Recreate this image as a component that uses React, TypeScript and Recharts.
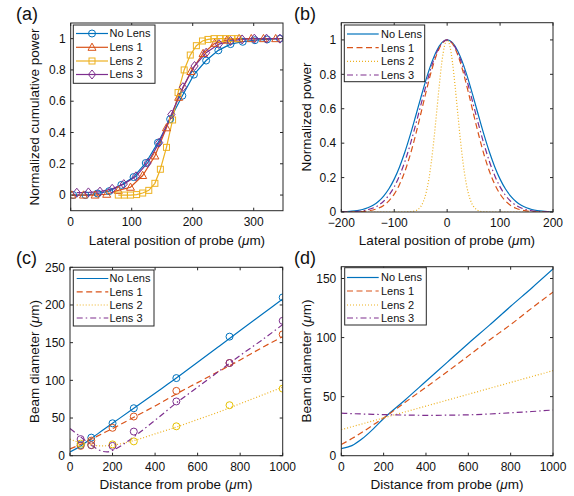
import React from "react";
import { LineChart, Line, XAxis, YAxis } from "recharts";

const BLUE = "#0072BD";
const ORANGE = "#D95319";
const YELLOW = "#EDB120";
const PURPLE = "#7E2F8E";
const AXIS = "#262626";
const TEXT = "#111";
const FONT = "'Liberation Sans', Arial, Helvetica, sans-serif";

const DASH = "6 3.5";
const DOT = "1 2";
const DASHDOT = "6 3 1.5 3";

const names = ["No Lens", "Lens 1", "Lens 2", "Lens 3"];

// (a) normalized cumulative power vs lateral position
const aNoLensX = [4, 24, 44, 63, 83, 103, 123, 143, 163, 183, 202, 222, 242, 262, 282, 302, 322, 343];
const aNoLensY = [0, 0, 0.01, 0.025, 0.065, 0.115, 0.205, 0.335, 0.485, 0.635, 0.77, 0.86, 0.925, 0.965, 0.98, 0.99, 0.995, 1.0];
const aLens1X = [2, 21, 40, 59, 78, 98, 118, 138, 157, 177, 197, 217, 236, 256, 276, 296, 316, 336];
const aLens1Y = [0, 0, 0, 0.005, 0.03, 0.05, 0.125, 0.25, 0.43, 0.625, 0.79, 0.905, 0.97, 0.99, 1.0, 1.0, 1.0, 1.0];
const aLens2X = [78, 88, 98, 108, 118, 128, 138, 147, 157, 167, 176, 186, 196, 206, 216, 225, 235, 245, 254, 264, 274];
const aLens2Y = [0, 0, 0, 0.003, 0.013, 0.03, 0.075, 0.165, 0.305, 0.48, 0.655, 0.8, 0.895, 0.955, 0.985, 0.995, 1.0, 1.0, 1.0, 1.0, 1.0];
const aLens3X = [10, 29, 48, 68, 87, 107, 126, 145, 165, 184, 203, 222, 243, 262, 281, 301, 321, 343];
const aLens3Y = [0.015, 0.017, 0.022, 0.04, 0.07, 0.12, 0.205, 0.335, 0.515, 0.69, 0.825, 0.91, 0.965, 0.985, 0.995, 1.0, 1.0, 1.0];

// (b) normalized power profiles
const bX = [
  -200, -190, -180, -170, -160, -150, -140, -130, -120, -110, -100, -90, -80, -70, -60, -50, -40, -30, -20, -10,
  0, 10, 20, 30, 40, 50, 60, 70, 80, 90, 100, 110, 120, 130, 140, 150, 160, 170, 180, 190, 200,
];
const bNoLens = [
  0.0013, 0.0026, 0.0047, 0.0084, 0.0145, 0.0243, 0.0392, 0.0612, 0.0926, 0.135, 0.191, 0.262, 0.347, 0.445, 0.552, 0.662, 0.768, 0.862, 0.936, 0.984,
  1, 0.984, 0.936, 0.862, 0.768, 0.662, 0.552, 0.445, 0.347, 0.262, 0.191, 0.135, 0.0926, 0.0612, 0.0392, 0.0243, 0.0145, 0.0084, 0.0047, 0.0026, 0.0013,
];
const bLens1 = [
  0.0001, 0.0003, 0.0007, 0.0014, 0.003, 0.0061, 0.0118, 0.0218, 0.0384, 0.0646, 0.104, 0.16, 0.235, 0.33, 0.443, 0.568, 0.696, 0.816, 0.913, 0.978,
  1, 0.978, 0.913, 0.816, 0.696, 0.568, 0.443, 0.33, 0.235, 0.16, 0.104, 0.0646, 0.0384, 0.0218, 0.0118, 0.0061, 0.003, 0.0014, 0.0007, 0.0003, 0.0001,
];
const bLens3 = [
  0.0005, 0.001, 0.002, 0.0039, 0.0073, 0.0132, 0.0231, 0.0388, 0.0628, 0.0977, 0.146, 0.211, 0.292, 0.39, 0.501, 0.618, 0.735, 0.841, 0.926, 0.981,
  1, 0.981, 0.926, 0.841, 0.735, 0.618, 0.501, 0.39, 0.292, 0.211, 0.146, 0.0977, 0.0628, 0.0388, 0.0231, 0.0132, 0.0073, 0.0039, 0.002, 0.001, 0.0005,
];
const bLens2X = [
  -200, -80, -75, -70, -65, -60, -55, -50, -45, -40, -35, -30, -25, -20, -15, -10, -5,
  0, 5, 10, 15, 20, 25, 30, 35, 40, 45, 50, 55, 60, 65, 70, 75, 80, 200,
];
const bLens2 = [
  0, 0.0001, 0.0004, 0.0011, 0.0029, 0.0068, 0.0151, 0.0313, 0.0605, 0.109, 0.183, 0.288, 0.421, 0.575, 0.732, 0.871, 0.966,
  1, 0.966, 0.871, 0.732, 0.575, 0.421, 0.288, 0.183, 0.109, 0.0605, 0.0313, 0.0151, 0.0068, 0.0029, 0.0011, 0.0004, 0.0001, 0,
];

// (c) measured beam diameter (markers) and fitted curves
const cMarkX = [50, 100, 200, 300, 500, 750, 1000];
const cNoLensM = [14, 24, 43, 63, 103, 158, 210];
const cLens1M = [13, 20, 37, 52, 86, 123, 161];
const cLens2M = [16, 14, 15, 19, 39, 67, 89];
const cLens3M = [22, 14, 13, 32, 72, 123, 179];
const cFitX = [0, 50, 100, 150, 200, 300, 400, 500, 600, 700, 800, 900, 1000];
const cNoLensFit = [5, 13, 23, 33, 43, 63, 83, 103, 124, 145, 166, 187, 208];
const cLens1Fit = [9, 15, 22, 29, 36, 51, 66, 82, 97, 112, 127, 143, 158];
const cLens2Fit = [22, 17, 14, 13, 14, 20, 29, 38, 48, 58, 69, 80, 91];
const cLens3FitX = [0, 50, 100, 150, 175, 200, 250, 300, 400, 500, 600, 700, 800, 900, 1000];
const cLens3Fit = [36, 25, 14, 6, 5, 7, 15, 25, 47, 70, 91, 112, 133, 153, 174];

// (d) simulated beam diameter
const dX = [0, 50, 100, 150, 200, 300, 400, 500, 600, 700, 800, 900, 1000];
const dNoLens = [6, 8.5, 14.5, 22.5, 31.5, 47, 63, 79, 95, 110.5, 126.5, 142, 158];
const dLens1 = [9.5, 14.5, 20, 26, 32, 45, 58, 71, 84.5, 98, 111, 125, 138.5];
const dLens2 = [22, 24.5, 27, 29.5, 32, 37, 42, 47, 52, 57, 62, 67, 72];
const dLens3 = [36, 35.6, 35.3, 35, 34.8, 34.4, 34.2, 34.3, 34.6, 35.3, 36.3, 37.4, 38.7];

const rows = (xs: number[], ys: number[]) => xs.map((x, i) => ({ x, y: ys[i] }));

type Shape = "circle" | "triangle" | "square" | "diamond";

function Marker({ shape, cx, cy, color }: { shape: Shape; cx: number; cy: number; color: string }) {
  const common = { fill: "none", stroke: color, strokeWidth: 1 };
  if (shape === "circle") return <circle cx={cx} cy={cy} r={3.5} {...common} />;
  if (shape === "triangle")
    return <polygon points={`${cx},${cy - 4.2} ${cx + 4},${cy + 3} ${cx - 4},${cy + 3}`} {...common} />;
  if (shape === "square") return <rect x={cx - 3} y={cy - 3} width={6} height={6} {...common} />;
  return <polygon points={`${cx},${cy - 4.5} ${cx + 3.6},${cy} ${cx},${cy + 4.5} ${cx - 3.6},${cy}`} {...common} />;
}

const dotFor = (shape: Shape, color: string) => (p: any) =>
  <Marker key={`m-${p.index}`} shape={shape} cx={p.cx} cy={p.cy} color={color} />;

const minus = (v: number) => String(v).replace("-", "\u2212");

const TICK_FS = 12;

type PanelProps = {
  left: number;
  top: number;
  width: number;
  height: number;
  mTop: number;
  mRight: number;
  yW: number;
  xH: number;
  xDomain: [number, number];
  yDomain: [number, number];
  xTicks: number[];
  yTicks: number[];
  children: React.ReactNode;
};

function Panel(props: PanelProps) {
  const { left, top, width, height, mTop, mRight, yW, xH, xDomain, yDomain, xTicks, yTicks, children } = props;
  const rightX = width - mRight;
  const xM = 6.5;
  const yM = 5;
  const xTick = (p: any) => {
    const axisY = p.y - xM;
    return (
      <g>
        <line x1={p.x} x2={p.x} y1={axisY} y2={axisY - 3} stroke={AXIS} />
        <line x1={p.x} x2={p.x} y1={mTop} y2={mTop + 3} stroke={AXIS} />
        <text x={p.x} y={p.y} dy="0.71em" textAnchor="middle" fontSize={TICK_FS} fontFamily={FONT} fill={TEXT}>
          {minus(p.payload.value)}
        </text>
      </g>
    );
  };
  const yTick = (p: any) => {
    const axisX = p.x + yM;
    return (
      <g>
        <line x1={axisX} x2={axisX + 3} y1={p.y} y2={p.y} stroke={AXIS} />
        <line x1={rightX - 3} x2={rightX} y1={p.y} y2={p.y} stroke={AXIS} />
        <text x={p.x} y={p.y} dy="0.35em" textAnchor="end" fontSize={TICK_FS} fontFamily={FONT} fill={TEXT}>
          {minus(p.payload.value)}
        </text>
      </g>
    );
  };
  return (
    <div style={{ position: "absolute", left, top }}>
      <LineChart width={width} height={height} margin={{ top: mTop, right: mRight, left: 0, bottom: 0 }}>
        <XAxis
          dataKey="x"
          type="number"
          domain={xDomain}
          ticks={xTicks}
          interval={0}
          height={xH}
          tickSize={0}
          tickMargin={xM}
          axisLine={false}
          tick={xTick}
          allowDataOverflow
        />
        <YAxis
          type="number"
          domain={yDomain}
          ticks={yTicks}
          interval={0}
          width={yW}
          tickSize={0}
          tickMargin={yM}
          axisLine={false}
          tick={yTick}
          allowDataOverflow
        />
        {children}
      </LineChart>
    </div>
  );
}

type LegendItem = { name: string; color: string; dash?: string; marker?: Shape };

function LegendBox({ x, y, w, h, rowY, lx1, lx2, tx, items }: {
  x: number; y: number; w: number; h: number; rowY: number[]; lx1: number; lx2: number; tx: number; items: LegendItem[];
}) {
  return (
    <g>
      <rect x={x} y={y} width={w} height={h} fill="#fff" stroke={AXIS} strokeWidth={1} />
      {items.map((it, i) => (
        <g key={it.name}>
          <line x1={lx1} x2={lx2} y1={rowY[i]} y2={rowY[i]} stroke={it.color} strokeWidth={1.2} strokeDasharray={it.dash} />
          {it.marker && <Marker shape={it.marker} cx={(lx1 + lx2) / 2} cy={rowY[i]} color={it.color} />}
          <text x={tx} y={rowY[i]} dy="0.36em" fontSize={11} fontFamily={FONT} fill={TEXT}>
            {it.name}
          </text>
        </g>
      ))}
    </g>
  );
}

const Mu = () => <tspan fontStyle="italic">{"\u03bc"}</tspan>;

function Overlay() {
  const frames = [
    [70.7, 23, 283, 210.7],
    [341.3, 22.7, 553, 212],
    [70, 267.3, 282.7, 455.7],
    [341.3, 266.7, 553, 455.7],
  ];
  const lab = { fontSize: 13.5, fontFamily: FONT, fill: TEXT, textAnchor: "middle" as const };
  const letter = { fontSize: 18, fontFamily: FONT, fill: TEXT };
  const itemsA: LegendItem[] = [
    { name: names[0], color: BLUE, marker: "circle" },
    { name: names[1], color: ORANGE, marker: "triangle" },
    { name: names[2], color: YELLOW, marker: "square" },
    { name: names[3], color: PURPLE, marker: "diamond" },
  ];
  const itemsLines: LegendItem[] = [
    { name: names[0], color: BLUE },
    { name: names[1], color: ORANGE, dash: DASH },
    { name: names[2], color: YELLOW, dash: DOT },
    { name: names[3], color: PURPLE, dash: DASHDOT },
  ];
  return (
    <svg width={574} height={496} style={{ position: "absolute", left: 0, top: 0, pointerEvents: "none" }}>
      {frames.map(([l, t, r, b], i) => (
        <rect key={i} x={l} y={t} width={r - l} height={b - t} fill="none" stroke={AXIS} strokeWidth={1} />
      ))}
      <text x={16} y={20} {...letter}>(a)</text>
      <text x={294} y={20} {...letter}>(b)</text>
      <text x={16} y={264} {...letter}>(c)</text>
      <text x={294} y={264} {...letter}>(d)</text>

      <text x={177} y={244.5} {...lab}>Lateral position of probe (<Mu />m)</text>
      <text x={447} y={244.5} {...lab}>Lateral position of probe (<Mu />m)</text>
      <text x={176} y={488.5} {...lab}>Distance from probe (<Mu />m)</text>
      <text x={447} y={488.5} {...lab}>Distance from probe (<Mu />m)</text>

      <text transform="translate(38.5,117) rotate(-90)" {...lab}>Normalized cumulative power</text>
      <text transform="translate(310.5,117) rotate(-90)" {...lab}>Normalized power</text>
      <text transform="translate(38.5,361.5) rotate(-90)" {...lab}>Beam diameter (<Mu />m)</text>
      <text transform="translate(310.5,361) rotate(-90)" {...lab}>Beam diameter (<Mu />m)</text>

      <LegendBox x={73.3} y={25} w={81.7} h={58.3} rowY={[33.5, 47.3, 61, 74.5]} lx1={76} lx2={108} tx={109.5} items={itemsA} />
      <LegendBox x={344.3} y={25} w={80.4} h={56.7} rowY={[34, 47.7, 61.3, 75]} lx1={347} lx2={378.7} tx={381} items={itemsLines} />
      <LegendBox x={73.3} y={270} w={80.7} h={56} rowY={[278.5, 291.8, 305, 318]} lx1={76.7} lx2={108.3} tx={109.5} items={itemsLines} />
      <LegendBox x={344.7} y={267.7} w={81.6} h={57.3} rowY={[277.5, 291, 305, 318]} lx1={347} lx2={378.7} tx={381} items={itemsLines} />
    </svg>
  );
}

const lineBase = { type: "linear" as const, strokeWidth: 1.2, isAnimationActive: false, activeDot: false, dataKey: "y" };

export default function App() {
  return (
    <div style={{ position: "absolute", left: 0, top: 0, width: 574, height: 496, background: "#fff", fontFamily: FONT }}>
      <Panel left={0} top={0} width={290} height={250} mTop={23} mRight={7} yW={70.7} xH={39.3}
        xDomain={[0, 348]} yDomain={[-0.1, 1.1]} xTicks={[0, 100, 200, 300]} yTicks={[0, 0.2, 0.4, 0.6, 0.8, 1]}>
        {[
          <Line key="a0" {...lineBase} data={rows(aNoLensX, aNoLensY)} stroke={BLUE} dot={dotFor("circle", BLUE)} />,
          <Line key="a1" {...lineBase} data={rows(aLens1X, aLens1Y)} stroke={ORANGE} dot={dotFor("triangle", ORANGE)} />,
          <Line key="a2" {...lineBase} data={rows(aLens2X, aLens2Y)} stroke={YELLOW} dot={dotFor("square", YELLOW)} />,
          <Line key="a3" {...lineBase} data={rows(aLens3X, aLens3Y)} stroke={PURPLE} dot={dotFor("diamond", PURPLE)} />,
        ]}
      </Panel>
      <Panel left={287} top={0} width={287} height={250} mTop={22.7} mRight={21} yW={54.3} xH={38}
        xDomain={[-200, 200]} yDomain={[0, 1.1]} xTicks={[-200, -100, 0, 100, 200]} yTicks={[0, 0.2, 0.4, 0.6, 0.8, 1]}>
        {[
          <Line key="b0" {...lineBase} type="monotone" data={rows(bX, bNoLens)} stroke={BLUE} dot={false} />,
          <Line key="b1" {...lineBase} type="monotone" data={rows(bX, bLens1)} stroke={ORANGE} strokeDasharray={DASH} dot={false} />,
          <Line key="b2" {...lineBase} type="monotone" data={rows(bLens2X, bLens2)} stroke={YELLOW} strokeDasharray={DOT} dot={false} />,
          <Line key="b3" {...lineBase} type="monotone" data={rows(bX, bLens3)} stroke={PURPLE} strokeDasharray={DASHDOT} dot={false} />,
        ]}
      </Panel>
      <Panel left={0} top={245} width={300} height={251} mTop={22.3} mRight={17.3} yW={70} xH={40.3}
        xDomain={[0, 1000]} yDomain={[0, 250]} xTicks={[0, 200, 400, 600, 800, 1000]} yTicks={[0, 50, 100, 150, 200, 250]}>
        {[
          <Line key="c0" {...lineBase} type="monotone" data={rows(cFitX, cNoLensFit)} stroke={BLUE} dot={false} />,
          <Line key="c1" {...lineBase} type="monotone" data={rows(cFitX, cLens1Fit)} stroke={ORANGE} strokeDasharray={DASH} dot={false} />,
          <Line key="c2" {...lineBase} type="monotone" data={rows(cFitX, cLens2Fit)} stroke={YELLOW} strokeDasharray={DOT} dot={false} />,
          <Line key="c3" {...lineBase} type="monotone" data={rows(cLens3FitX, cLens3Fit)} stroke={PURPLE} strokeDasharray={DASHDOT} dot={false} />,
          <Line key="cm0" {...lineBase} data={rows(cMarkX, cNoLensM)} stroke="none" dot={dotFor("circle", BLUE)} />,
          <Line key="cm1" {...lineBase} data={rows(cMarkX, cLens1M)} stroke="none" dot={dotFor("circle", ORANGE)} />,
          <Line key="cm2" {...lineBase} data={rows(cMarkX, cLens2M)} stroke="none" dot={dotFor("circle", "#E6C200")} />,
          <Line key="cm3" {...lineBase} data={rows(cMarkX, cLens3M)} stroke="none" dot={dotFor("circle", PURPLE)} />,
        ]}
      </Panel>
      <Panel left={287} top={245} width={287} height={251} mTop={21.7} mRight={21} yW={54.3} xH={40.3}
        xDomain={[0, 1000]} yDomain={[0, 160]} xTicks={[0, 200, 400, 600, 800, 1000]} yTicks={[0, 50, 100, 150]}>
        {[
          <Line key="d0" {...lineBase} type="monotone" data={rows(dX, dNoLens)} stroke={BLUE} dot={false} />,
          <Line key="d1" {...lineBase} type="monotone" data={rows(dX, dLens1)} stroke={ORANGE} strokeDasharray={DASH} dot={false} />,
          <Line key="d2" {...lineBase} type="monotone" data={rows(dX, dLens2)} stroke={YELLOW} strokeDasharray={DOT} dot={false} />,
          <Line key="d3" {...lineBase} type="monotone" data={rows(dX, dLens3)} stroke={PURPLE} strokeDasharray={DASHDOT} dot={false} />,
        ]}
      </Panel>
      <Overlay />
    </div>
  );
}
